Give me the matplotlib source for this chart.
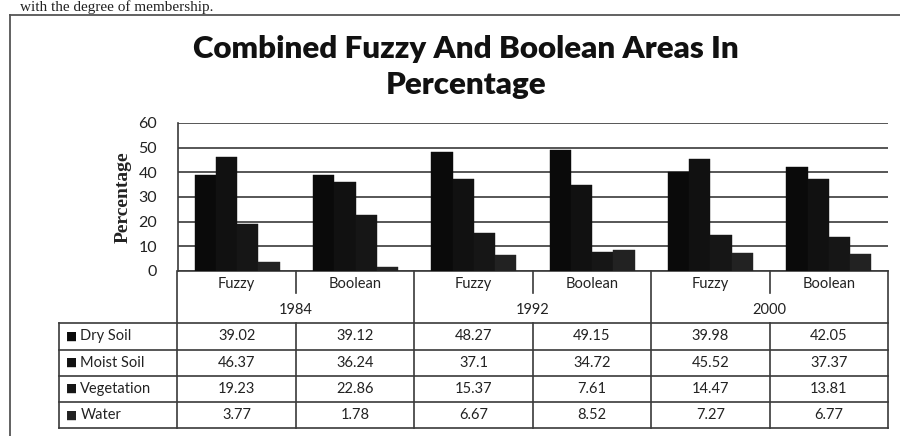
import matplotlib
matplotlib.use('Agg')
import matplotlib.pyplot as plt
from matplotlib.lines import Line2D

# values
groups = ['Fuzzy', 'Boolean', 'Fuzzy', 'Boolean', 'Fuzzy', 'Boolean']
years = ['1984', '1992', '2000']
series = ['Dry Soil', 'Moist Soil', 'Vegetation', 'Water']
dry_soil = [39.02, 39.12, 48.27, 49.15, 39.98, 42.05]
moist_soil = [46.37, 36.24, 37.1, 34.72, 45.52, 37.37]
vegetation = [19.23, 22.86, 15.37, 7.61, 14.47, 13.81]
water = [3.77, 1.78, 6.67, 8.52, 7.27, 6.77]

values = [dry_soil, moist_soil, vegetation, water]
colors = ['#0a0a0a', '#111111', '#161616', '#222222']
line_c = '#3a3a3a'
text_c = '#222222'

W, H = 900, 436
fig = plt.figure(figsize=(9, 4.36), dpi=100)


def fx(px):
    return px / W


def fy(py):
    return 1 - py / H


# page frame of the scan
fig.add_artist(Line2D([fx(10), fx(900)], [fy(15), fy(15)], color='#555555', lw=1.3,
                      transform=fig.transFigure))
fig.add_artist(Line2D([fx(10), fx(10)], [fy(15), fy(436)], color='#555555', lw=1.3,
                      transform=fig.transFigure))
fig.text(fx(20), fy(0.5), 'with the degree of membership.', family='Liberation Serif',
         fontsize=11, color=text_c, va='top', ha='left')

# title
fig.text(fx(466), fy(49), 'Combined Fuzzy And Boolean Areas In', family='Lato',
         weight='heavy', fontsize=22.5, color='#111111', ha='center', va='center')
fig.text(fx(466), fy(85), 'Percentage', family='Lato', weight='heavy', fontsize=22.5,
         color='#111111', ha='center', va='center')

# bar chart
ax = fig.add_axes([fx(178), fy(271), fx(710), 148 / H])
bw = 0.18
x = range(len(groups))
for i, vals in enumerate(values):
    ax.bar([k + (i - 1.5) * bw for k in x], vals, width=bw, color=colors[i],
           edgecolor=colors[i], linewidth=0.3, zorder=3, label=series[i])
ax.set_xlim(-0.5, 5.5)
ax.set_ylim(0, 60)
ax.set_yticks(range(0, 61, 10))
ax.set_xticks([])
ax.yaxis.grid(True, color=line_c, lw=1.2)
ax.set_axisbelow(True)
for s in ['top', 'right']:
    ax.spines[s].set_visible(False)
ax.spines['left'].set_color(line_c)
ax.spines['bottom'].set_color(line_c)
ax.spines['left'].set_linewidth(1.2)
ax.spines['bottom'].set_linewidth(1.2)
ax.tick_params(axis='y', length=0, pad=15, labelsize=11.5, labelcolor=text_c)
for lab in ax.get_yticklabels():
    lab.set_family('Lato')
ax.set_ylabel('Percentage', family='Liberation Serif', weight='bold', fontsize=14,
              color=text_c, labelpad=5)

# data table under the chart
tax = fig.add_axes([fx(59), fy(428), fx(829), 157 / H])
tax.set_xlim(-1.5, 5.5)
tax.set_ylim(0, 6)
tax.axis('off')
kw = dict(color=line_c, lw=1.2, clip_on=False)
fs = 10.5

# header rows: categories and years
for k, g in enumerate(groups):
    tax.text(k, 5.52, g, ha='center', va='center', family='Lato', fontsize=fs,
             color=text_c)
for j, yr in enumerate(years):
    tax.text(2 * j + 0.5, 4.5, yr, ha='center', va='center', family='Lato',
             fontsize=fs, color=text_c)
    tax.plot([2 * j + 0.5] * 2, [5.15, 6], **kw)
for xv in [-0.5, 1.5, 3.5, 5.5]:
    tax.plot([xv, xv], [0, 6], **kw)
for xv in [0.5, 2.5, 4.5]:
    tax.plot([xv, xv], [0, 4], **kw)
tax.plot([-1.5, -1.5], [0, 4], **kw)
for yv in range(5):
    tax.plot([-1.5, 5.5], [yv, yv], **kw)

# data rows
for r, (name, vals) in enumerate(zip(series, values)):
    yc = 3.5 - r
    tax.text(-1.44, yc, '\u25a0', ha='left', va='center', fontsize=8.5,
             color=colors[r], family='DejaVu Sans')
    tax.text(-1.32, yc, name, ha='left', va='center', family='Lato', fontsize=fs,
             color=text_c)
    for k, v in enumerate(vals):
        tax.text(k, yc, str(v), ha='center', va='center', family='Lato',
                 fontsize=fs, color=text_c)

fig.savefig('out.png', dpi=100, facecolor='white')
